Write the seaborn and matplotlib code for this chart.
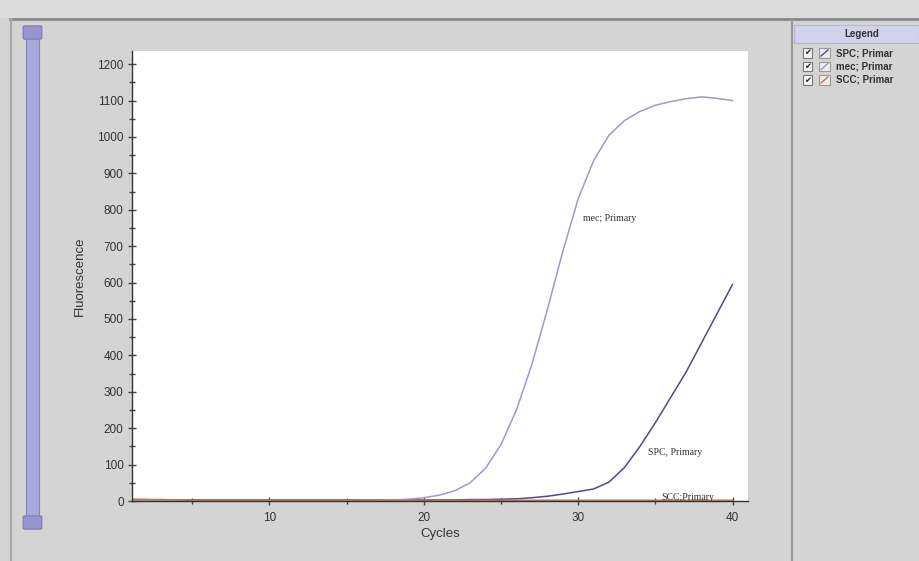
import matplotlib
matplotlib.use("Agg")
import matplotlib.pyplot as plt
from matplotlib.patches import Rectangle, FancyBboxPatch
from matplotlib.lines import Line2D
from matplotlib.ticker import MultipleLocator
import seaborn as sns
import pandas as pd

# data
cycles = list(range(1, 41))
spc = [4, 4, 3, 3, 3, 3, 3, 3, 3, 3, 3, 3, 3, 3, 3, 3, 3, 3, 3, 3,
       3, 3, 4, 4, 5, 6, 9, 13, 19, 26, 33, 52, 92, 150, 215, 285, 355, 435, 515, 595]
mec = [2, 2, 1, 1, 1, 1, 1, 1, 1, 1, 1, 1, 1, 1, 1, 2, 2, 3, 5, 9,
       16, 28, 50, 90, 155, 250, 375, 525, 685, 830, 935, 1005, 1045, 1070, 1087, 1097, 1105, 1110, 1106, 1100]
scc = [5, 4, 4, 3, 2, 2, 2, 2, 2, 2, 2, 2, 2, 2, 2, 2, 2, 2, 2, 2,
       2, 2, 2, 2, 2, 2, 2, 2, 2, 2, 2, 2, 2, 2, 2, 2, 2, 2, 2, 2]

series_names = ["SPC; Primary", "mec; Primary", "SCC; Primary"]
legend_texts = ["SPC; Primar", "mec; Primar", "SCC; Primar"]
curve_labels = ["SPC, Primary", "mec; Primary", "SCC;Primary"]
line_colors = ["#4c4c92", "#9d9acd", "#c27a52"]

df = pd.DataFrame({"Cycles": cycles, series_names[0]: spc,
                   series_names[1]: mec, series_names[2]: scc})
df = df.melt(id_vars="Cycles", var_name="series", value_name="Fluorescence")

W, H = 919, 561
fig = plt.figure(figsize=(W / 100, H / 100), dpi=100, facecolor="#d4d4d4")

def fx(px):
    return px / W

def fy(py):
    return 1 - py / H

# window chrome: top separator, left border, slider
fig.add_artist(Rectangle((0, fy(18)), 1, fy(0) - fy(18), transform=fig.transFigure,
                         facecolor="#dcdcdc", edgecolor="none"))
fig.add_artist(Line2D([fx(10), 1], [fy(19), fy(19)], transform=fig.transFigure,
                      color="#8a8a8a", lw=2))
fig.add_artist(Line2D([fx(11), fx(11)], [fy(19), 0], transform=fig.transFigure,
                      color="#a8a8a8", lw=1.5))
fig.add_artist(Rectangle((fx(26), fy(525)), fx(13), fy(32) - fy(525),
                         transform=fig.transFigure, facecolor="#aaa7da",
                         edgecolor="#8885bb", lw=0.8))
for yk in (32, 522):
    fig.add_artist(FancyBboxPatch((fx(25), fy(yk + 6)), fx(15), fy(yk - 5) - fy(yk + 6),
                                  boxstyle="round,pad=0.002", transform=fig.transFigure,
                                  facecolor="#9794cf", edgecolor="#7d7ab3", lw=0.8))

# legend panel on the right
fig.add_artist(Line2D([fx(792), fx(792)], [fy(20), 0], transform=fig.transFigure,
                      color="#9a9a9a", lw=1.5))
fig.add_artist(Rectangle((fx(794), fy(43)), 1 - fx(794), fy(25) - fy(43),
                         transform=fig.transFigure, facecolor="#d2d2ee",
                         edgecolor="#b8b8d0", lw=0.8))
fig.text(fx(862), fy(34), "Legend", ha="center", va="center", fontsize=7,
         fontweight="bold", family="Liberation Sans", color="#333333")
for i, (txt, col) in enumerate(zip(legend_texts, line_colors)):
    yy = 53 + i * 13.5
    fig.add_artist(Rectangle((fx(803), fy(yy + 4.5)), fx(9), fy(yy - 4.5) - fy(yy + 4.5),
                             transform=fig.transFigure, facecolor="#f4f4f4",
                             edgecolor="#777777", lw=0.8))
    fig.text(fx(807.5), fy(yy), "\u2714", ha="center", va="center", fontsize=6,
             family="DejaVu Sans", color="#222222")
    fig.add_artist(Rectangle((fx(819), fy(yy + 4.5)), fx(11), fy(yy - 4.5) - fy(yy + 4.5),
                             transform=fig.transFigure, facecolor="#ececec",
                             edgecolor="#999999", lw=0.8))
    fig.add_artist(Line2D([fx(821), fx(828)], [fy(yy + 3), fy(yy - 3)],
                          transform=fig.transFigure, color=col, lw=1.0))
    fig.text(fx(836), fy(yy), txt, ha="left", va="center", fontsize=7,
             fontweight="bold", family="Liberation Sans", color="#333333")

# main chart
ax = fig.add_axes([fx(132), fy(501), fx(748) - fx(132), fy(51) - fy(501)])
ax.set_facecolor("white")
sns.lineplot(data=df, x="Cycles", y="Fluorescence", hue="series",
             hue_order=series_names, palette=line_colors, ax=ax,
             legend=False, linewidth=1.1)

ax.set_xlim(1.1, 41.0)
ax.set_ylim(0, 1236)
ax.xaxis.set_major_locator(MultipleLocator(10))
ax.xaxis.set_minor_locator(MultipleLocator(5))
ax.yaxis.set_major_locator(MultipleLocator(100))
ax.yaxis.set_minor_locator(MultipleLocator(50))
ax.set_yticks(range(0, 1201, 100))
ax.tick_params(which="major", direction="inout", length=6, width=1,
               color="#444444", labelsize=8.5, labelcolor="#333333", pad=3)
ax.tick_params(which="minor", direction="inout", length=4, width=1, color="#444444")
ax.tick_params(axis="x", which="major", pad=5)
ax.set_xticks([10, 20, 30, 40])
for lab in ax.get_xticklabels() + ax.get_yticklabels():
    lab.set_family("Liberation Sans")

for side in ("top", "right"):
    ax.spines[side].set_visible(False)
for side in ("left", "bottom"):
    ax.spines[side].set_color("#333333")
    ax.spines[side].set_linewidth(1.0)

ax.set_xlabel("Cycles", fontsize=9.5, family="Liberation Sans", color="#333333", labelpad=3)
ax.set_ylabel("Fluorescence", fontsize=9.5, family="Liberation Sans", color="#333333", labelpad=8)

# labels next to the curves
ax.text(34.5, 132, curve_labels[0], family="Liberation Serif", fontsize=7,
        va="center", ha="left", color="#333333")
ax.text(30.3, 777, curve_labels[1], family="Liberation Serif", fontsize=7,
        va="center", ha="left", color="#333333")
ax.text(35.4, 9, curve_labels[2], family="Liberation Serif", fontsize=7,
        va="center", ha="left", color="#333333")

fig.savefig("out.png", dpi=100, facecolor=fig.get_facecolor())
